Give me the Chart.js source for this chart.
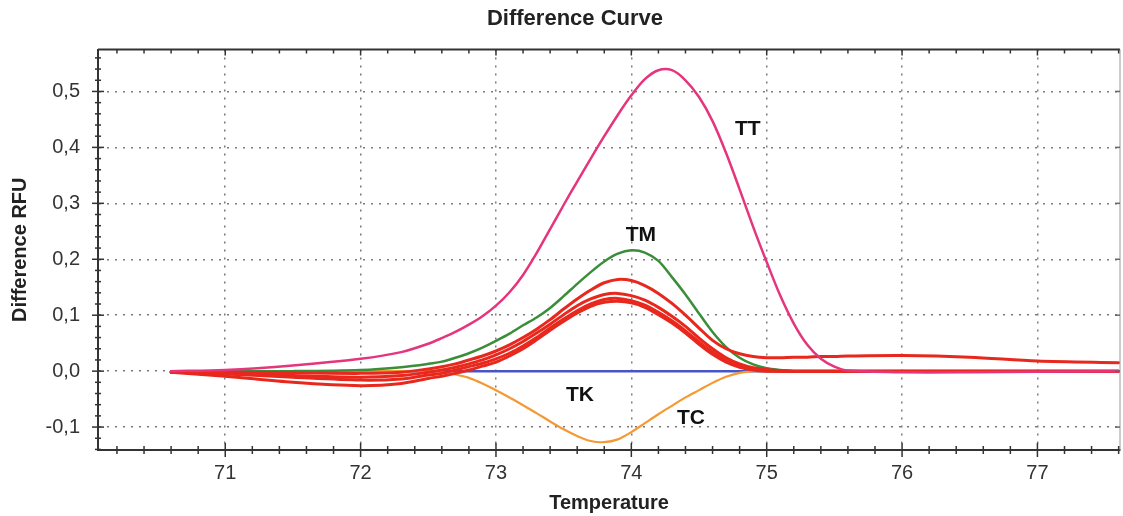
<!DOCTYPE html>
<html>
<head>
<meta charset="utf-8">
<title>Difference Curve</title>
<script src="https://cdn.jsdelivr.net/npm/chart.js@4.4.1/dist/chart.umd.min.js"></script>
<style>
  html, body { margin: 0; padding: 0; background: #fff; }
  #wrap { width: 1123px; height: 516px; position: relative; }
</style>
</head>
<body>
<div id="wrap"><canvas id="chart"></canvas></div>
<script>
const temps = [70.6, 71.0, 71.5, 72.0, 72.3,
               72.5, 72.6, 72.7, 72.8, 72.9, 73.0, 73.1, 73.2, 73.3, 73.4,
               73.5, 73.6, 73.7, 73.8, 73.9, 74.0, 74.1, 74.2, 74.3, 74.4,
               74.5, 74.6, 74.7, 74.8, 74.9, 75.0, 75.1, 75.2, 75.3, 75.4,
               75.5, 75.6,
               76.0, 76.5, 77.0, 77.6];

// difference RFU per genotype
const ttVals = [0.0, 0.002, 0.010, 0.022, 0.034,
                0.049, 0.059, 0.070, 0.083, 0.098, 0.117, 0.141, 0.172, 0.211, 0.254,
                0.297, 0.339, 0.380, 0.420, 0.458, 0.493, 0.522, 0.538, 0.538, 0.520,
                0.490, 0.447, 0.390, 0.325, 0.258, 0.195, 0.135, 0.085, 0.047, 0.022,
                0.008, 0.001,
                -0.002, -0.002, -0.001, 0.0];
const tmVals = [0, 0, 0, 0.002, 0.007,
                0.013, 0.017, 0.024, 0.032, 0.042, 0.054, 0.067, 0.082, 0.096, 0.113,
                0.134, 0.156, 0.177, 0.196, 0.210, 0.216, 0.212, 0.197, 0.168, 0.137,
                0.103, 0.070, 0.043, 0.024, 0.012, 0.005, 0.002, 0, 0, 0,
                0, 0,
                0, 0, 0, 0];
const tcVals = [0, 0, 0, 0, 0,
                0, -0.002, -0.006, -0.012, -0.022, -0.034, -0.047, -0.061, -0.075, -0.090,
                -0.104, -0.116, -0.125, -0.127, -0.122, -0.109, -0.093, -0.077, -0.062, -0.047,
                -0.034, -0.021, -0.010, -0.003, 0, 0, 0, 0, 0, 0,
                0, 0,
                0, 0, 0, 0];
// TK stays flat on the baseline
const tkTemps = [70.6, 77.6];
const tkVals = [0, 0];

// red sample curves
const red1 = [-0.002, -0.002, -0.003, -0.004, -0.002,
              0.004, 0.008, 0.013, 0.020, 0.027, 0.036, 0.047, 0.060, 0.075, 0.092,
              0.111, 0.129, 0.145, 0.158, 0.164, 0.162, 0.153, 0.139, 0.121, 0.100,
              0.077, 0.055, 0.040, 0.031, 0.026, 0.024, 0.024, 0.025, 0.025, 0.026,
              0.026, 0.027,
              0.028, 0.025, 0.018, 0.015];
const red2 = [-0.002, -0.004, -0.008, -0.011, -0.008,
              -0.002, 0.002, 0.007, 0.013, 0.020, 0.029, 0.040, 0.053, 0.068, 0.084,
              0.101, 0.117, 0.129, 0.137, 0.139, 0.135, 0.127, 0.114, 0.098, 0.080,
              0.059, 0.040, 0.024, 0.013, 0.006, 0.003, 0.001, 0, 0, 0,
              0, 0,
              0, 0, 0, 0];
const red3 = [-0.002, -0.005, -0.011, -0.016, -0.014,
              -0.007, -0.004, 0.002, 0.008, 0.014, 0.022, 0.032, 0.045, 0.060, 0.077,
              0.093, 0.108, 0.120, 0.128, 0.130, 0.126, 0.118, 0.105, 0.090, 0.072,
              0.052, 0.034, 0.019, 0.009, 0.004, 0.001, 0, 0, 0, 0,
              0, 0,
              0, 0, 0, 0];
const red4 = [-0.002, -0.009, -0.020, -0.026, -0.022,
              -0.013, -0.009, -0.004, 0.002, 0.009, 0.016, 0.027, 0.040, 0.056, 0.073,
              0.089, 0.104, 0.116, 0.123, 0.125, 0.122, 0.114, 0.101, 0.086, 0.068,
              0.048, 0.030, 0.016, 0.007, 0.002, 0, 0, 0, 0, 0,
              0, 0,
              0, 0, 0, 0];

// axis ticks
const xTickVals = [71, 72, 73, 74, 75, 76, 77];
const yTickVals = [-0.1, 0.0, 0.1, 0.2, 0.3, 0.4, 0.5];

// curve labels (placed in data coords)
const labelNames = ['TT', 'TM', 'TK', 'TC'];
const labelX = [74.86, 74.07, 73.62, 74.44];
const labelY = [0.432, 0.243, -0.043, -0.084];

const FONT = '"Liberation Sans", Arial, sans-serif';

const pts = (xs, vals) => xs.map((t, i) => ({ x: t, y: vals[i] }));

function curve(xs, vals, color, width, order) {
  return {
    data: pts(xs, vals),
    borderColor: color,
    borderWidth: width,
    pointRadius: 0,
    fill: false,
    tension: 0.3,
    borderCapStyle: 'round',
    borderJoinStyle: 'round',
    order: order
  };
}

// title, slightly right of canvas centre like the original
const chartTitle = {
  id: 'chartTitle',
  afterDraw(chart) {
    const { ctx } = chart;
    ctx.save();
    ctx.font = 'bold 22px ' + FONT;
    ctx.fillStyle = '#222';
    ctx.textAlign = 'center';
    ctx.textBaseline = 'middle';
    ctx.fillText('Difference Curve', 575, 19);
    ctx.restore();
  }
};

// tick marks crossing the axes + frame on top/right
const frameTicks = {
  id: 'frameTicks',
  afterDraw(chart) {
    const { ctx, chartArea: a, scales: { x, y } } = chart;
    const seg = (x1, y1, x2, y2) => { ctx.beginPath(); ctx.moveTo(x1, y1); ctx.lineTo(x2, y2); ctx.stroke(); };
    ctx.save();
    ctx.strokeStyle = '#333';
    ctx.lineWidth = 2;
    seg(a.left, a.top, a.right, a.top);
    ctx.strokeStyle = '#999';
    ctx.lineWidth = 1;
    seg(a.right, a.top, a.right, a.bottom);

    ctx.strokeStyle = '#333';
    ctx.lineWidth = 1.5;
    for (let k = Math.ceil(x.min * 5); k <= Math.floor(x.max * 5); k++) {
      const px = x.getPixelForValue(k / 5);
      const major = k % 5 === 0;
      const len = major ? 7 : 4;
      seg(px, a.bottom - len, px, a.bottom + len);
      seg(px, a.top, px, a.top + (major ? 6 : 4));
    }
    for (let k = Math.ceil(y.min * 50); k <= Math.floor(y.max * 50); k++) {
      const py = y.getPixelForValue(k / 50);
      const major = k % 5 === 0;
      const len = major ? 6 : 3;
      seg(a.left - len, py, a.left + len, py);
      if (major) {
        ctx.strokeStyle = '#666';
        seg(a.right - 5, py, a.right, py);
        ctx.strokeStyle = '#333';
      }
    }
    ctx.restore();
  }
};

const curveLabels = {
  id: 'curveLabels',
  afterDatasetsDraw(chart) {
    const { ctx, scales: { x, y } } = chart;
    ctx.save();
    ctx.font = 'bold 21px ' + FONT;
    ctx.fillStyle = '#111';
    ctx.textAlign = 'center';
    ctx.textBaseline = 'middle';
    labelNames.forEach((name, i) => {
      ctx.fillText(name, x.getPixelForValue(labelX[i]), y.getPixelForValue(labelY[i]));
    });
    ctx.restore();
  }
};

new Chart(document.getElementById('chart'), {
  type: 'line',
  data: {
    datasets: [
      curve(tkTemps, tkVals, '#4656c4', 2.5, 7),
      curve(temps, tcVals, '#f39a35', 2.2, 6),
      curve(temps, tmVals, '#3a8e3a', 2.5, 5),
      curve(temps, red4, '#e8281d', 3, 4),
      curve(temps, red3, '#e8281d', 3, 3),
      curve(temps, red2, '#e8281d', 3, 3),
      curve(temps, red1, '#e8281d', 3, 2),
      curve(temps, ttVals, '#e5357d', 2.5, 1)
    ]
  },
  options: {
    responsive: true,
    maintainAspectRatio: false,
    animation: false,
    layout: { padding: { left: 0, right: 3, top: 49.5, bottom: 0 } },
    plugins: {
      legend: { display: false },
      tooltip: { enabled: false },
      title: { display: false }
    },
    scales: {
      x: {
        type: 'linear',
        min: 70.06,
        max: 77.61,
        afterFit: s => { s.height = 66; },
        afterBuildTicks: s => { s.ticks = xTickVals.map(v => ({ value: v })); },
        ticks: {
          color: '#333',
          padding: 11,
          maxRotation: 0,
          font: { family: FONT, size: 20 },
          callback: v => String(v)
        },
        grid: { color: '#7a7a7a', lineWidth: 1.5, drawTicks: false },
        border: { display: true, color: '#333', width: 2, dash: [2, 6] },
        title: {
          display: true,
          text: 'Temperature',
          color: '#222',
          font: { family: FONT, size: 20, weight: 'bold' },
          padding: { top: 0, bottom: 0.5 }
        }
      },
      y: {
        type: 'linear',
        min: -0.141,
        max: 0.575,
        afterFit: s => { s.width = 98; },
        afterBuildTicks: s => { s.ticks = yTickVals.map(v => ({ value: v })); },
        ticks: {
          color: '#333',
          padding: 18,
          font: { family: FONT, size: 20 },
          callback: v => v.toFixed(1).replace('.', ',')
        },
        grid: { color: '#7a7a7a', lineWidth: 1.5, drawTicks: false },
        border: { display: true, color: '#333', width: 2, dash: [2, 6] },
        title: {
          display: true,
          text: 'Difference RFU',
          color: '#222',
          font: { family: FONT, size: 20, weight: 'bold' },
          padding: { top: 8, bottom: 0 }
        }
      }
    }
  },
  plugins: [chartTitle, frameTicks, curveLabels]
});
</script>
</body>
</html>
